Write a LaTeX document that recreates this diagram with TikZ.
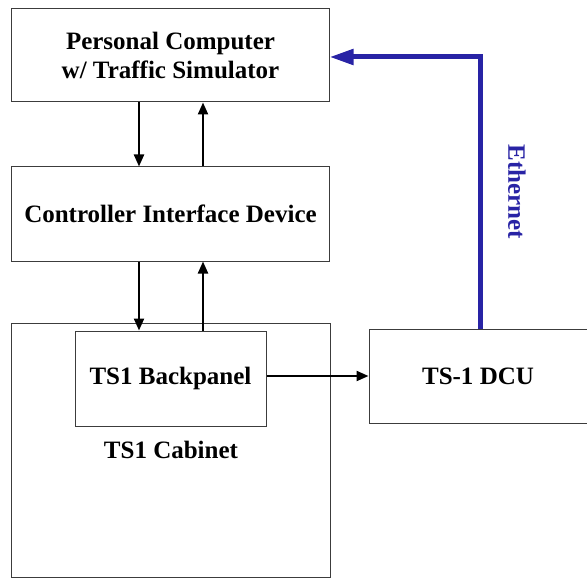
\documentclass[tikz,border=0pt]{standalone}
\usepackage{fontspec}
\setmainfont{Liberation Serif}
\usetikzlibrary{arrows.meta}
\definecolor{ethblue}{RGB}{40,35,165}
\definecolor{edge}{RGB}{60,60,60}
\tikzset{
  box/.style={draw=edge, line width=1bp, fill=white, inner sep=0pt, align=center,
    font=\fontsize{25bp}{29bp}\selectfont\bfseries},
  label/.style={inner sep=0pt, font=\fontsize{25bp}{29bp}\selectfont\bfseries},
  arr/.style={line width=2.2bp, -{Triangle[length=12bp,width=10bp]}},
  eth/.style={draw=ethblue, line width=5bp, -{Triangle[length=24bp,width=15bp]}}
}
\begin{document}
\begin{tikzpicture}[x=1bp,y=-1bp]
\useasboundingbox (0,0) rectangle (587,579);
% blocks
\node[box, minimum width=317bp, minimum height=93bp] (pc) at (170.5,55.5)
  {Personal Computer\\w/ Traffic Simulator};
\node[box, minimum width=317bp, minimum height=94bp] (cid) at (170.5,214)
  {Controller Interface Device};
\node[box, minimum width=318bp, minimum height=254bp] (cab) at (171,450) {};
\node[box, minimum width=191bp, minimum height=95bp] (bp) at (170.5,378.5)
  {TS1 Backpanel};
\node[label] (cablabel) at (171,450) {TS1 Cabinet};
\node[box, minimum width=218bp, minimum height=94bp] (dcu) at (478,376)
  {TS-1 DCU};
% column positions of the vertical links
\coordinate (c1) at (139,0);
\coordinate (c2) at (203,0);
% links
\draw[arr] (pc.south -| c1) -- (cid.north -| c1);
\draw[arr] (cid.north -| c2) -- (pc.south -| c2);
\draw[arr] (cid.south -| c1) -- (bp.north -| c1);
\draw[arr] (bp.north -| c2) -- (cid.south -| c2);
\draw[arr] (bp.east |- dcu.west) -- (dcu.west);
% network link
\coordinate (ethx) at (480,0);
\coordinate (ethy) at (0,57);
\draw[eth] (dcu.north -| ethx) -- (ethx |- ethy) -- (pc.east |- ethy);
\node[label, text=ethblue, rotate=-90] (ethlabel) at (517,192) {Ethernet};
\end{tikzpicture}
\end{document}
